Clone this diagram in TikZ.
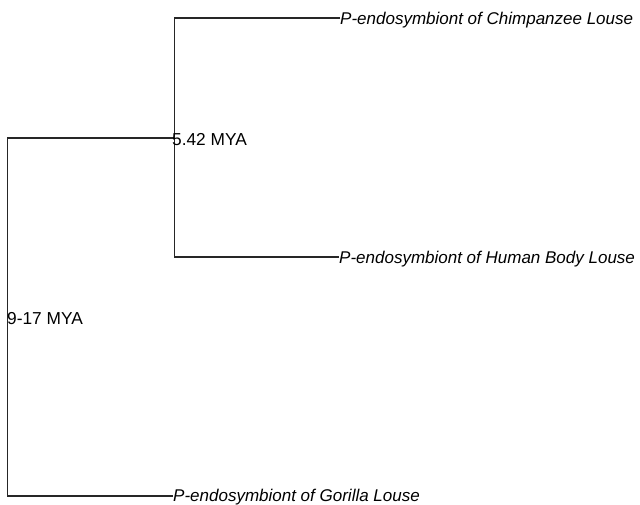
\documentclass[tikz,border=0pt]{standalone}
\usepackage{fontspec}
\setmainfont{Liberation Sans}
\begin{document}
\begin{tikzpicture}[x=1pt,y=-1pt,
  branch/.style={draw=black!85,line width=1.2pt},
  leaf/.style={anchor=base west,inner sep=0pt,font=\fontsize{17}{19}\selectfont\itshape},
  age/.style={anchor=base west,inner sep=0pt,font=\fontsize{17.3}{19}\selectfont}]
\useasboundingbox (0,0) rectangle (640,504);
\coordinate (root) at (7.5,138);
\coordinate (rootb) at (7.5,496);
\coordinate (inner) at (174.5,138);
\coordinate (innert) at (174.5,18);
\coordinate (innerb) at (174.5,257);
\coordinate (chimpend) at (340,18);
\coordinate (humanend) at (339,257);
\coordinate (gorend) at (173,496);
\node[leaf] (chimp) at (340,24) {P-endosymbiont of Chimpanzee Louse};
\node[leaf] (human) at (339,263) {P-endosymbiont of Human Body Louse};
\node[leaf] (gor) at (173,501.5) {P-endosymbiont of Gorilla Louse};
\draw[branch] (inner) -- (root) -- (rootb) -- (gorend);
\draw[branch] (chimpend) -- (innert) -- (innerb) -- (humanend);
\node[age] (a1) at (172,145.5) {5.42 MYA};
\node[age] (a2) at (7,324.7) {9-17 MYA};
\end{tikzpicture}
\end{document}
